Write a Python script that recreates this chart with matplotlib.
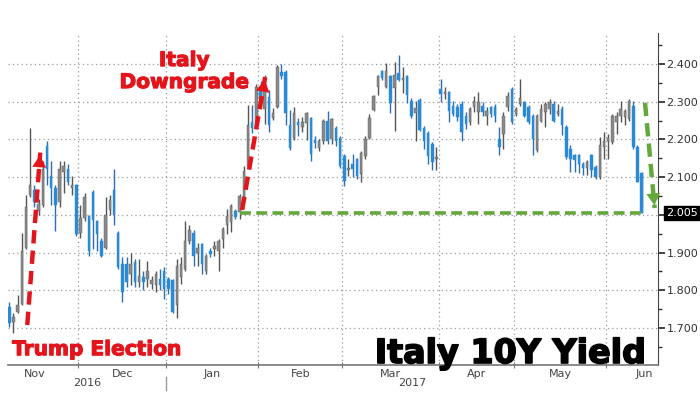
import numpy as np
import matplotlib
matplotlib.use('Agg')
import matplotlib.pyplot as plt
import matplotlib.patheffects as pe
from matplotlib.ticker import FixedLocator, FuncFormatter
import matplotlib.transforms as mtransforms

# daily OHLC, Italy 10Y yield (trading days, Nov 2016 - Jun 2017)
opens = [1.757, 1.717, 1.743, 1.765, 1.913, 2.052, 2.065, 2.009, 2.026, 2.183,
         2.104, 2.070, 2.035, 2.113, 2.122, 2.070, 2.078, 1.952, 1.991, 1.996,
         2.061, 1.983, 1.930, 1.913, 2.013, 2.065, 1.952, 1.870, 1.870, 1.843,
         1.874, 1.822, 1.835, 1.830, 1.817, 1.813, 1.830, 1.852, 1.830, 1.826,
         1.761, 1.835, 1.857, 1.930, 1.952, 1.900, 1.922, 1.852, 1.904, 1.909,
         1.904, 1.937, 1.972, 1.981, 2.011, 2.007, 2.046, 2.129, 2.247, 2.238,
         2.334, 2.280, 2.313, 2.256, 2.286, 2.378, 2.378, 2.238, 2.203, 2.247,
         2.234, 2.243, 2.256, 2.199, 2.177, 2.196, 2.248, 2.200, 2.231, 2.204,
         2.156, 2.119, 2.134, 2.147, 2.108, 2.156, 2.204, 2.279, 2.340, 2.380,
         2.340, 2.367, 2.336, 2.375, 2.358, 2.367, 2.301, 2.270, 2.305, 2.231,
         2.218, 2.189, 2.149, 2.333, 2.320, 2.325, 2.289, 2.285, 2.294, 2.263,
         2.246, 2.285, 2.272, 2.289, 2.263, 2.285, 2.285, 2.202, 2.215, 2.285,
         2.333, 2.268, 2.294, 2.298, 2.285, 2.263, 2.171, 2.250, 2.272, 2.281,
         2.294, 2.268, 2.281, 2.232, 2.175, 2.158, 2.158, 2.136, 2.123, 2.158,
         2.127, 2.101, 2.180, 2.197, 2.193, 2.246, 2.263, 2.259, 2.254, 2.289,
         2.180, 2.110]
highs = [1.770, 1.739, 1.787, 1.952, 2.052, 2.230, 2.080, 2.043, 2.143, 2.196,
         2.143, 2.078, 2.143, 2.143, 2.135, 2.104, 2.083, 2.026, 2.057, 2.000,
         2.065, 1.987, 1.939, 2.048, 2.052, 2.122, 1.957, 1.887, 1.887, 1.900,
         1.883, 1.883, 1.852, 1.878, 1.839, 1.852, 1.857, 1.861, 1.835, 1.830,
         1.883, 1.887, 1.983, 1.974, 1.961, 1.926, 1.926, 1.896, 1.913, 1.930,
         1.935, 1.968, 2.016, 2.029, 2.016, 2.055, 2.129, 2.291, 2.291, 2.348,
         2.356, 2.370, 2.330, 2.282, 2.396, 2.400, 2.383, 2.278, 2.286, 2.256,
         2.260, 2.273, 2.260, 2.208, 2.200, 2.253, 2.275, 2.257, 2.235, 2.209,
         2.161, 2.147, 2.161, 2.152, 2.169, 2.209, 2.266, 2.318, 2.371, 2.384,
         2.402, 2.371, 2.406, 2.424, 2.393, 2.371, 2.310, 2.301, 2.310, 2.235,
         2.222, 2.193, 2.180, 2.360, 2.338, 2.329, 2.303, 2.294, 2.303, 2.272,
         2.285, 2.316, 2.325, 2.298, 2.285, 2.289, 2.294, 2.232, 2.272, 2.325,
         2.338, 2.285, 2.360, 2.303, 2.290, 2.268, 2.268, 2.294, 2.298, 2.307,
         2.303, 2.294, 2.289, 2.237, 2.184, 2.162, 2.162, 2.140, 2.145, 2.162,
         2.132, 2.206, 2.219, 2.215, 2.268, 2.272, 2.303, 2.281, 2.307, 2.303,
         2.184, 2.114]
lows = [1.704, 1.687, 1.739, 1.761, 1.909, 2.048, 2.020, 2.000, 2.022, 2.078,
        2.026, 1.957, 2.022, 2.057, 2.078, 2.052, 1.943, 1.939, 1.983, 1.891,
        1.909, 1.904, 1.887, 1.909, 2.000, 1.974, 1.857, 1.770, 1.809, 1.813,
        1.809, 1.809, 1.800, 1.809, 1.804, 1.796, 1.800, 1.778, 1.791, 1.740,
        1.726, 1.817, 1.852, 1.922, 1.865, 1.865, 1.843, 1.843, 1.887, 1.891,
        1.852, 1.911, 1.950, 1.955, 1.990, 1.990, 2.038, 2.125, 2.217, 2.234,
        2.300, 2.240, 2.220, 2.252, 2.282, 2.360, 2.238, 2.173, 2.199, 2.208,
        2.220, 2.199, 2.142, 2.177, 2.170, 2.187, 2.187, 2.187, 2.182, 2.125,
        2.077, 2.104, 2.099, 2.095, 2.086, 2.147, 2.200, 2.275, 2.318, 2.358,
        2.336, 2.270, 2.222, 2.354, 2.323, 2.296, 2.257, 2.196, 2.222, 2.174,
        2.134, 2.118, 2.118, 2.298, 2.307, 2.246, 2.263, 2.250, 2.197, 2.228,
        2.237, 2.272, 2.241, 2.263, 2.237, 2.259, 2.246, 2.158, 2.175, 2.276,
        2.241, 2.263, 2.289, 2.259, 2.240, 2.158, 2.167, 2.246, 2.232, 2.268,
        2.246, 2.263, 2.211, 2.149, 2.114, 2.114, 2.110, 2.105, 2.105, 2.101,
        2.096, 2.096, 2.149, 2.149, 2.189, 2.215, 2.246, 2.237, 2.250, 2.175,
        2.088, 2.005]
closes = [1.713, 1.730, 1.761, 1.904, 2.022, 2.078, 2.035, 2.030, 2.122, 2.122,
          2.070, 2.026, 2.122, 2.130, 2.087, 2.078, 1.948, 1.991, 2.048, 1.904,
          1.987, 1.948, 1.891, 2.000, 2.039, 2.000, 1.861, 1.796, 1.822, 1.870,
          1.822, 1.839, 1.822, 1.852, 1.826, 1.843, 1.813, 1.804, 1.804, 1.743,
          1.865, 1.870, 1.930, 1.961, 1.891, 1.913, 1.870, 1.891, 1.896, 1.917,
          1.930, 1.963, 1.998, 2.024, 1.994, 2.051, 2.116, 2.238, 2.230, 2.339,
          2.308, 2.330, 2.238, 2.269, 2.391, 2.369, 2.269, 2.177, 2.269, 2.238,
          2.247, 2.269, 2.160, 2.190, 2.195, 2.248, 2.196, 2.253, 2.196, 2.130,
          2.090, 2.125, 2.121, 2.104, 2.165, 2.200, 2.257, 2.314, 2.367, 2.362,
          2.380, 2.296, 2.371, 2.358, 2.362, 2.318, 2.261, 2.283, 2.226, 2.196,
          2.156, 2.140, 2.154, 2.320, 2.325, 2.276, 2.268, 2.259, 2.219, 2.241,
          2.281, 2.303, 2.298, 2.272, 2.276, 2.268, 2.263, 2.180, 2.263, 2.316,
          2.246, 2.281, 2.311, 2.263, 2.246, 2.202, 2.263, 2.281, 2.294, 2.298,
          2.250, 2.276, 2.237, 2.154, 2.149, 2.145, 2.136, 2.123, 2.140, 2.118,
          2.101, 2.184, 2.197, 2.204, 2.263, 2.263, 2.281, 2.276, 2.303, 2.180,
          2.088, 2.005]

month_names = ['Nov', 'Dec', 'Jan', 'Feb', 'Mar', 'Apr', 'May', 'Jun']
month_starts = [-4.5, 16.5, 37.5, 59.5, 79.5, 102.5, 120.5, 142.5, 164.5]  # in trading-day index
year_names = ['2016', '2017']
year_split = 37.5
downgrade_day = 55      # where the green support line starts
y_ticks = [1.7, 1.8, 1.9, 2.0, 2.1, 2.2, 2.3, 2.4]

BLUE = '#2b8ad6'
GREY = '#8a8a8a'
RED = '#e3141b'
GREEN = '#62a83a'

fig = plt.figure(figsize=(7, 4.04), dpi=100)
ax = fig.add_axes([8 / 700, 1 - 365 / 404, 650 / 700, 332 / 404])

x = np.arange(len(closes))
o = np.array(opens)
c = np.array(closes)
up = c >= o
body_col = np.where(up, GREY, BLUE)
wick_col = np.where(up, '#555555', '#2a6fb3')

ax.vlines(x, lows, highs, colors=wick_col, lw=1, zorder=3)
ax.bar(x, np.maximum(np.abs(c - o), 0.003), bottom=np.minimum(o, c), width=0.6,
       color=body_col, edgecolor=np.where(up, '#5a5a5a', BLUE), linewidth=0.3, zorder=4)

xmin, xmax = -0.3, 154.9
ax.set_xlim(xmin, xmax)
ax.set_ylim(1.602, 2.482)

# grid
for yv in y_ticks:
    ax.axhline(yv, color='#9a9a9a', lw=0.9, ls=(0, (1, 2.5)), zorder=1)
for ms in month_starts[1:-1]:
    ax.axvline(ms, color='#9a9a9a', lw=0.9, ls=(0, (1, 2.5)), zorder=1)

# right axis
ax.yaxis.tick_right()
ax.yaxis.set_major_locator(FixedLocator(y_ticks))
ax.yaxis.set_minor_locator(FixedLocator(np.arange(1.65, 2.46, 0.1)))
ax.yaxis.set_major_formatter(FuncFormatter(lambda v, p: '' if abs(v - 2.0) < 1e-6 else f'{v:.3f}'))
ax.tick_params(axis='y', which='major', length=5, width=1.3, color='#333333',
               labelsize=8, labelcolor='#333333', pad=1)
ax.tick_params(axis='y', which='minor', length=3, width=1, color='#333333')
for s in ['top', 'left']:
    ax.spines[s].set_visible(False)
ax.spines['right'].set_color('#444444')
ax.spines['bottom'].set_color('#777777')
ax.spines['bottom'].set_linewidth(1.2)

# bottom month axis
centers = [min((a + b) / 2, xmax - 3.2) for a, b in zip(month_starts[:-1], month_starts[1:])]
ax.xaxis.set_major_locator(FixedLocator(month_starts[1:-1]))
ax.xaxis.set_major_formatter(FuncFormatter(lambda v, p: ''))
ax.set_xticks(centers, minor=True)
ax.set_xticklabels(month_names, minor=True)
ax.tick_params(axis='x', which='major', length=4, direction='inout', color='#777777')
ax.tick_params(axis='x', which='minor', length=0, labelsize=8, labelcolor='#444444', pad=3)

tr = mtransforms.blended_transform_factory(ax.transData, ax.transAxes)
ax.text((xmin + year_split) / 2, -0.055, year_names[0], transform=tr, ha='center', va='center',
        fontsize=8, color='#444444')
ax.text((year_split + xmax) / 2, -0.055, year_names[1], transform=tr, ha='center', va='center',
        fontsize=8, color='#444444')
ax.plot([year_split, year_split], [-0.036, -0.075], transform=tr, color='#999999', lw=1, clip_on=False)

# last value box
box_tr = mtransforms.blended_transform_factory(ax.transAxes, ax.transData)
ax.text(1.012, closes[-1], f'{closes[-1]:.3f}', transform=box_tr, ha='left', va='center',
        fontsize=8, color='white', zorder=10,
        bbox=dict(boxstyle='square,pad=0.15', fc='black', ec='black'))

# annotations
def dashed_arrow(x0, y0, x1, y1, color):
    ax.plot([x0, x1], [y0, y1], color=color, lw=3.2, ls=(0, (3, 1.6)), zorder=6,
            solid_capstyle='butt')
    ax.annotate('', xy=(x1, y1), xytext=(x0 + (x1 - x0) * 0.93, y0 + (y1 - y0) * 0.93),
                arrowprops=dict(arrowstyle='-|>,head_length=0.6,head_width=0.35', color=color,
                                lw=0.1, mutation_scale=14), zorder=7)

dashed_arrow(4.3, 1.708, 7.4, 2.165, RED)
dashed_arrow(55.6, 2.013, 61.1, 2.365, RED)
ax.plot([downgrade_day, len(closes) - 1], [closes[-1], closes[-1]], color=GREEN, lw=2.6,
        ls=(0, (3, 1.5)), zorder=6)
dashed_arrow(151.8, 2.297, 154.1, 2.018, GREEN)

ax.text(41.8, 2.336, 'Italy\nDowngrade', ha='center', va='baseline', fontsize=14.5,
        fontweight='bold', color=RED, linespacing=1.2,
        path_effects=[pe.withStroke(linewidth=0.8, foreground=RED)])
ax.text(0.7, 1.628, 'Trump Election', ha='left', va='baseline', fontsize=14.5,
        fontweight='bold', color=RED, zorder=8,
        path_effects=[pe.withStroke(linewidth=0.8, foreground=RED)])
ax.text(0.982, 0.006, 'Italy 10Y Yield', transform=ax.transAxes, ha='right', va='baseline',
        fontsize=24, fontweight='bold', color='black', zorder=8,
        path_effects=[pe.withStroke(linewidth=1.2, foreground='black')])

fig.savefig('out.png', dpi=100, facecolor='white')
